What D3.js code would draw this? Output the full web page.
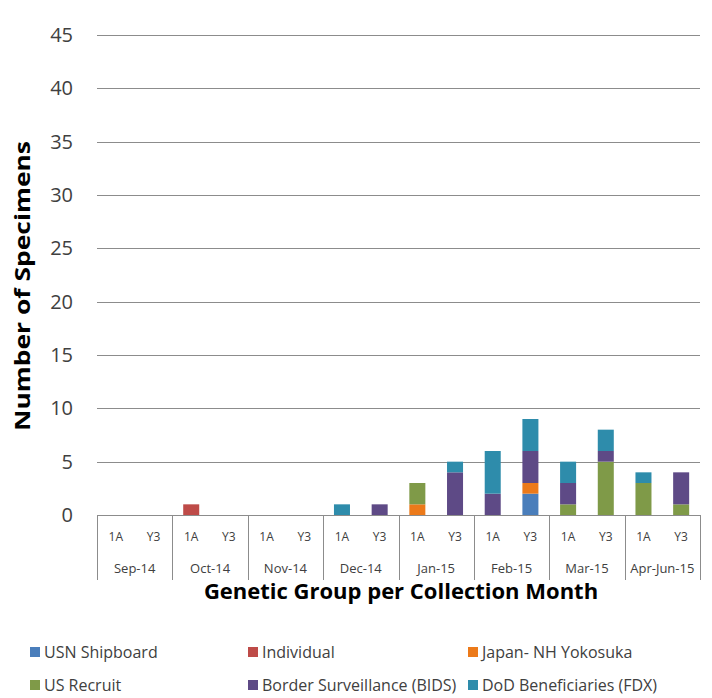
<!DOCTYPE html>
<html lang="en">
<head>
  <meta charset="UTF-8">
  <title>Genetic Group per Collection Month</title>
  <script src="https://d3js.org/d3.v7.min.js"></script>
  <style>
    body { margin: 0; background: #fff; }
    text { font-family: "Open Sans", "Noto Sans", sans-serif; }
    .tick-label { font-size: 20px; fill: #404040; }
    .cat-label { font-size: 12px; fill: #404040; }
    .month-label { font-size: 13px; fill: #404040; }
    .axis-title { font-size: 22px; font-weight: bold; fill: #000; }
    .legend-label { font-size: 16px; fill: #404040; }
  </style>
</head>
<body>
  <svg id="chart" width="712" height="698"></svg>
  <script>
    // months and sub-groups on the x axis
    const months = ["Sep-14", "Oct-14", "Nov-14", "Dec-14", "Jan-15", "Feb-15", "Mar-15", "Apr-Jun-15"];
    const groups = ["1A", "Y3"];

    // series, one value per month x group (1A, Y3, 1A, Y3, ...)
    const seriesNames = ["USN Shipboard", "Individual", "Japan- NH Yokosuka", "US Recruit", "Border Surveillance (BIDS)", "DoD Beneficiaries (FDX)"];
    const usnShipboard = [0,0, 0,0, 0,0, 0,0, 0,0, 0,2, 0,0, 0,0];
    const individual   = [0,0, 1,0, 0,0, 0,0, 0,0, 0,0, 0,0, 0,0];
    const japanNH      = [0,0, 0,0, 0,0, 0,0, 1,0, 0,1, 0,0, 0,0];
    const usRecruit    = [0,0, 0,0, 0,0, 0,0, 2,0, 0,0, 1,5, 3,1];
    const borderBIDS   = [0,0, 0,0, 0,0, 0,1, 0,4, 2,3, 2,1, 0,3];
    const dodFDX       = [0,0, 0,0, 0,0, 1,0, 0,1, 4,3, 2,2, 1,0];
    const seriesColors = ["#4a7ebb", "#be4b48", "#ec7a1a", "#7f9a48", "#5e4a86", "#2e8cab"];

    const yTicks = [0, 5, 10, 15, 20, 25, 30, 35, 40, 45];

    // build rows for the stack
    const seriesValues = [usnShipboard, individual, japanNH, usRecruit, borderBIDS, dodFDX];
    const rows = [];
    months.forEach((m, mi) => {
      groups.forEach((g, gi) => {
        const row = { month: m, group: g };
        seriesNames.forEach((s, si) => { row[s] = seriesValues[si][mi * 2 + gi]; });
        rows.push(row);
      });
    });

    const svg = d3.select("#chart");
    const plotLeft = 97, plotRight = 700, plotTop = 35, plotBottom = 515;

    const y = d3.scaleLinear().domain([0, 45]).range([plotBottom, plotTop]);
    const x0 = d3.scaleBand().domain(months).range([plotLeft, plotRight]);
    const x1 = d3.scaleBand().domain(groups).range([0, x0.bandwidth()])
      .paddingInner(0.575).paddingOuter(0.2875);

    // gridlines + y labels
    svg.append("g").selectAll("line")
      .data(yTicks.filter(d => d > 0))
      .join("line")
      .attr("x1", plotLeft).attr("x2", plotRight)
      .attr("y1", d => Math.round(y(d)) + 0.5).attr("y2", d => Math.round(y(d)) + 0.5)
      .attr("stroke", "#8c8c8c").attr("stroke-width", 1);

    svg.append("g").selectAll("text")
      .data(yTicks)
      .join("text")
      .attr("class", "tick-label")
      .attr("x", 73).attr("y", d => y(d))
      .attr("dy", "0.35em")
      .attr("text-anchor", "end")
      .text(d => d);

    // stacked bars
    const stack = d3.stack().keys(seriesNames);
    const layers = stack(rows);
    svg.append("g").selectAll("g")
      .data(layers)
      .join("g")
      .attr("fill", (d, i) => seriesColors[i])
      .selectAll("rect")
      .data(d => d.filter(p => p[1] - p[0] > 0))
      .join("rect")
      .attr("x", d => x0(d.data.month) + x1(d.data.group))
      .attr("width", x1.bandwidth())
      .attr("y", d => y(d[1]))
      .attr("height", d => y(d[0]) - y(d[1]));

    // x axis line and month separators
    const axis = svg.append("g").attr("stroke", "#8c8c8c").attr("stroke-width", 1);
    axis.append("line")
      .attr("x1", plotLeft).attr("x2", plotRight)
      .attr("y1", plotBottom + 0.5).attr("y2", plotBottom + 0.5);
    axis.selectAll(".sep")
      .data(months.map(m => x0(m)).concat([plotRight]))
      .join("line")
      .attr("class", "sep")
      .attr("x1", d => Math.round(d) + 0.5).attr("x2", d => Math.round(d) + 0.5)
      .attr("y1", plotBottom).attr("y2", 580);

    // sub-group labels
    svg.append("g").selectAll("text")
      .data(rows)
      .join("text")
      .attr("class", "cat-label")
      .attr("x", d => x0(d.month) + x1(d.group) + x1.bandwidth() / 2)
      .attr("y", 537).attr("dy", "0.35em")
      .attr("text-anchor", "middle")
      .text(d => d.group);

    // month labels
    svg.append("g").selectAll("text")
      .data(months)
      .join("text")
      .attr("class", "month-label")
      .attr("x", d => x0(d) + x0.bandwidth() / 2)
      .attr("y", 568).attr("dy", "0.35em")
      .attr("text-anchor", "middle")
      .text(d => d);

    // axis titles
    svg.append("text")
      .attr("class", "axis-title")
      .attr("x", 401).attr("y", 599)
      .attr("text-anchor", "middle")
      .text("Genetic Group per Collection Month");

    svg.append("text")
      .attr("class", "axis-title")
      .attr("transform", "translate(30,286) rotate(-90)")
      .attr("text-anchor", "middle")
      .style("font-size", "21px")
      .attr("textLength", 290)
      .attr("lengthAdjust", "spacingAndGlyphs")
      .text("Number of Specimens");

    // legend, 3 columns x 2 rows
    const legendX = [30, 248, 468];
    const legendY = [652, 685];
    const legend = svg.append("g").selectAll("g")
      .data(seriesNames)
      .join("g")
      .attr("transform", (d, i) => `translate(${legendX[i % 3]},${legendY[Math.floor(i / 3)]})`);
    legend.append("rect")
      .attr("x", 0).attr("y", -5)
      .attr("width", 10).attr("height", 10)
      .attr("fill", (d, i) => seriesColors[i]);
    legend.append("text")
      .attr("class", "legend-label")
      .attr("x", 14).attr("dy", "0.35em")
      .text(d => d);
  </script>
</body>
</html>
